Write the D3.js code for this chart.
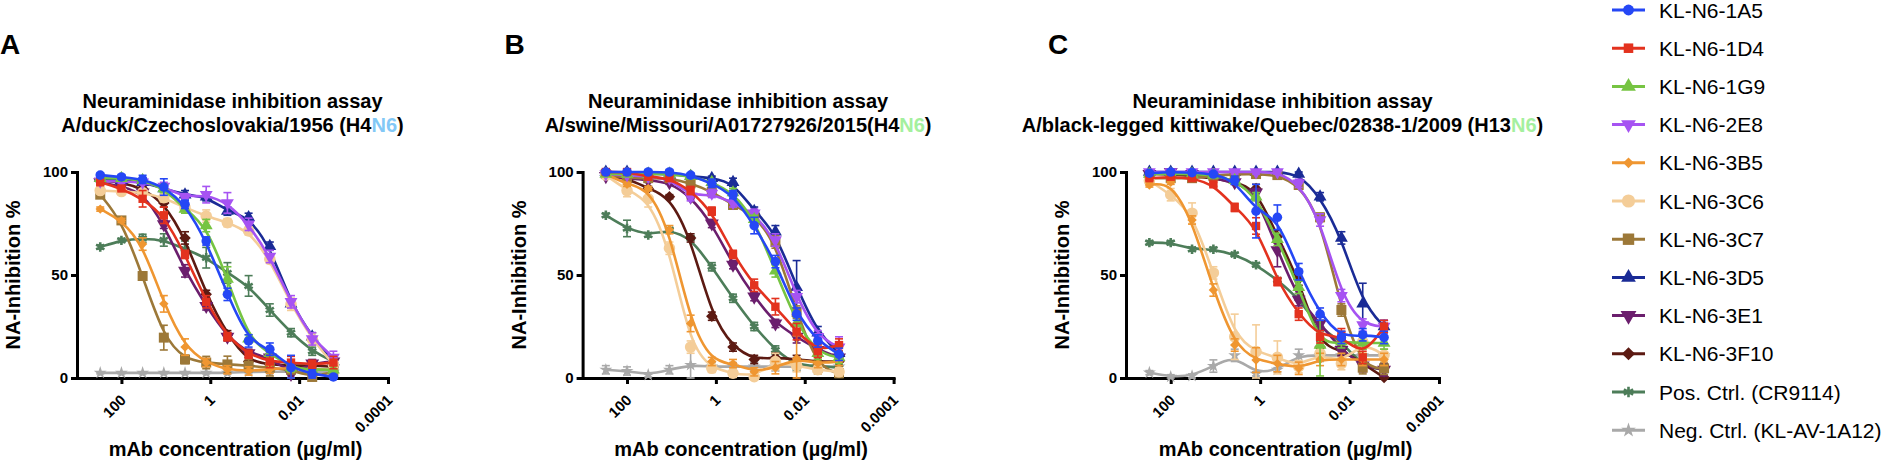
<!DOCTYPE html>
<html>
<head>
<meta charset="utf-8">
<script src="https://cdn.jsdelivr.net/npm/d3@7"></script>
<style>
  body { margin: 0; background: #fff; }
  svg { font-family: "Liberation Sans", Arial, Helvetica, sans-serif; }
</style>
</head>
<body>
<svg id="chart" width="1890" height="464"></svg>
<script>
// 3-fold serial dilution, µg/ml
const concentrations = [300, 100, 33.33, 11.11, 3.704, 1.235, 0.4115, 0.1372, 0.04572, 0.01524, 0.00508, 0.001694];

const seriesNames = ["KL-N6-1A5", "KL-N6-1D4", "KL-N6-1G9", "KL-N6-2E8", "KL-N6-3B5", "KL-N6-3C6",
  "KL-N6-3C7", "KL-N6-3D5", "KL-N6-3E1", "KL-N6-3F10", "Pos. Ctrl. (CR9114)", "Neg. Ctrl. (KL-AV-1A12)"];
const seriesColors = ["#2547f5", "#e3321e", "#76c442", "#a653f2", "#ef9631", "#f4cd98",
  "#9c7838", "#1a2b96", "#6b1e6d", "#5c1a12", "#4d7d59", "#a9a9a9"];
const seriesMarkers = ["circle", "square", "triangle", "triangleDown", "diamond", "circle",
  "square", "triangle", "triangleDown", "diamond", "asterisk", "star"];
const markerSizes = [72, 70, 72, 72, 44, 105, 100, 72, 84, 66, 62, 52];

const panelLabels = ["A", "B", "C"];
const titleLine1 = "Neuraminidase inhibition assay";
const titleStrains = ["A/duck/Czechoslovakia/1956 (H4", "A/swine/Missouri/A01727926/2015(H4", "A/black-legged kittiwake/Quebec/02838-1/2009 (H13"];
const titleNa = "N6";
const naColors = ["#82c8f6", "#a4f09e", "#a4f09e"];

const xTickValues = [100, 1, 0.01, 0.0001];
const xTickLabels = ["100", "1", "0.01", "0.0001"];
const yTickValues = [0, 50, 100];
const xLabel = "mAb concentration (µg/ml)";
const yLabel = "NA-Inhibition %";

// NA-inhibition %, one row per series (same order as seriesNames)
const valuesA = [
  [98.5, 97.6, 96.4, 92.7, 84.3, 66.5, 40.6, 18, 14, 5, 2, 0.5],
  [95, 92, 87, 79, 60, 37, 20, 11.5, 8, 7.5, 6.6, 7.5],
  [97, 97, 96, 92, 82, 74, 48, 19, 12, 5, 4, 4],
  [95.5, 95.5, 95, 93, 87.5, 89, 85, 74.6, 59, 37, 19, 10],
  [82, 76.5, 65, 36, 15, 7.5, 4, 3.4, 4.2, 5, 4, 4],
  [91, 90.5, 90, 87.5, 82.7, 78.6, 75.4, 71.4, 57.6, 35.8, 18.8, 6.6],
  [89, 76.5, 49.5, 19.6, 9, 7.5, 6.6, 6, 5, 4, 0.5, 3],
  [97, 96, 95, 92, 89, 88, 81, 78, 64, 36, 20, 8],
  [95, 93, 90, 74.6, 52, 35, 20, 12, 10, 2, 7, 8],
  [96, 95, 92, 85, 68, 40.6, 21, 8, 6.6, 6, 6, 5.5],
  [63.6, 66.8, 67.8, 67, 62.5, 58.4, 51, 44.7, 33, 22, 13, 8],
  [2.5, 2.5, 2.5, 2.5, 2.5, 2.5, 2.5, 3, 3, 3, 3, 3]
];
const errorsA = [
  [1, 1, 2, 4, 2, 2, 3, 3, 3, 6, 2, 1],
  [1, 1, 4, 4, 2, 3, 2, 2, 3, 3, 2, 3],
  [1, 1, 1, 2, 2, 3, 6, 2, 2, 2, 2, 2],
  [1, 1, 1, 2, 2, 4, 5, 3, 3, 3, 3, 3],
  [1, 1, 3, 4, 4, 2, 2, 2, 2, 2, 2, 2],
  [1, 1, 1, 2, 2, 3, 2, 2, 2, 3, 3, 3],
  [1, 1, 2, 6, 2, 3, 4, 3, 4, 4, 3, 3],
  [1, 1, 1, 2, 2, 2, 2, 2, 2, 2, 2, 2],
  [1, 1, 1, 2, 3, 2, 2, 2, 2, 4, 2, 2],
  [1, 1, 1, 2, 3, 2, 2, 2, 2, 2, 2, 2],
  [1, 1, 2, 3, 4, 5, 5, 5, 3, 2, 2, 2],
  [0.5, 0.5, 0.5, 0.5, 0.5, 0.5, 0.5, 0.5, 0.5, 0.5, 0.5, 0.5]
];

const valuesB = [
  [100, 100, 100, 100, 98.5, 94.5, 89, 74, 56.5, 31, 18, 11.5],
  [100, 100, 97.7, 97, 91, 81, 60, 45, 34.6, 22.5, 13, 16],
  [99, 99, 99, 99, 98, 95, 90, 77, 52, 26.5, 12, 10],
  [99, 98.5, 97.7, 97, 88, 89.6, 85, 80, 67, 39.5, 20, 15],
  [99, 94, 92, 72, 26.5, 8, 7, 3, 5, 9.5, 7, 8],
  [98.5, 91, 87, 63, 15, 4.7, 2.3, 0.6, 8, 6, 4, 3],
  [99, 97, 97, 97, 94.5, 90.5, 84, 79, 66, 32, 5, 2.3],
  [100, 100, 99, 99, 98, 97, 95, 81, 71, 44, 22, 12],
  [98, 97, 96, 95, 88, 75, 55, 39.5, 26.5, 20, 13.6, 10],
  [98, 97, 92, 88, 68, 30, 15, 9, 10, 9, 8, 8],
  [79, 72.6, 69.4, 72, 68, 54, 38.7, 25, 13.6, 6, 6, 5],
  [4, 3.4, 1.5, 4, 6.3, 5.5, 5.5, 5.5, 5.5, 5.5, 5.5, 5.5]
];
const errorsB = [
  [1, 1, 1, 1, 1, 2, 2, 4, 3, 3, 3, 3],
  [1, 1, 1, 1, 2, 2, 2, 3, 4, 4, 3, 3],
  [1, 1, 1, 1, 1, 1, 2, 2, 3, 3, 3, 3],
  [1, 1, 1, 1, 2, 2, 2, 2, 3, 3, 3, 5],
  [1, 1, 1, 2, 4, 2, 2, 2, 3, 11, 2, 2],
  [1, 3, 4, 3, 3, 2, 2, 2, 4, 3, 2, 2],
  [1, 1, 1, 1, 2, 2, 2, 2, 3, 3, 3, 2],
  [1, 1, 1, 1, 1, 1, 2, 2, 3, 13, 3, 3],
  [1, 1, 1, 1, 1, 2, 2, 2, 2, 3, 3, 3],
  [1, 1, 1, 1, 2, 2, 2, 2, 2, 2, 2, 2],
  [1, 4, 1, 1, 1, 2, 2, 2, 2, 2, 2, 2],
  [2, 2, 1, 2, 9, 2, 2, 2, 2, 2, 2, 2]
];

const valuesC = [
  [99.4, 100, 99.7, 99, 96, 81, 78, 51.6, 31, 19.7, 21, 19.7],
  [97, 97.7, 97, 94, 82.8, 73.8, 46.8, 31, 20, 21, 10, 25],
  [99, 99, 99, 98.5, 96, 88, 67.3, 44, 16, 17.6, 17, 17],
  [100, 100, 100, 100, 100, 100, 100, 94.5, 76.7, 40, 25.7, 25],
  [93.7, 95, 76.7, 42.7, 16, 8.7, 7, 4.7, 9, 9, 9, 9],
  [95.8, 89, 80, 51, 20, 12.8, 10, 5.5, 12, 7, 17.6, 11],
  [97, 97, 97, 98, 99, 99, 98.5, 93.7, 78, 33, 5, 4.7],
  [100, 100, 100, 100, 100, 100, 100, 99, 88, 68, 36, 25],
  [99, 100, 99, 97, 95, 90, 62, 38, 26.5, 13.6, 6, 4],
  [99, 99, 98, 97, 95, 92, 68.6, 48, 15, 14, 7, 0.3],
  [65.7, 65.7, 62.5, 62.5, 60, 55, 47.6, 38.7, 24, 18, 5.5, 4],
  [2.6, 0.6, 1, 5.8, 11, 2, 4, 11, 11, 11, 11, 11]
];
const errorsC = [
  [1, 1, 1, 1, 2, 13, 6, 4, 3, 3, 3, 3],
  [1, 1, 1, 1, 2, 4, 2, 3, 3, 3, 3, 3],
  [1, 1, 1, 1, 1, 2, 3, 3, 15, 3, 3, 3],
  [1, 1, 1, 1, 1, 1, 1, 2, 3, 3, 3, 3],
  [1, 1, 2, 3, 3, 6, 4, 3, 3, 3, 3, 3],
  [1, 3, 5, 3, 11, 13, 8, 3, 3, 3, 3, 3],
  [1, 1, 1, 1, 1, 1, 1, 2, 2, 3, 3, 3],
  [1, 1, 1, 1, 1, 1, 1, 1, 2, 3, 10, 3],
  [1, 1, 1, 1, 1, 2, 8, 3, 3, 3, 3, 3],
  [1, 1, 1, 1, 1, 2, 3, 3, 3, 3, 3, 3],
  [1, 1, 1, 1, 1, 1, 1, 1, 1, 1, 1, 1],
  [1, 1, 1, 3, 3, 1, 1, 3, 3, 3, 3, 3]
];

const panelValues = [valuesA, valuesB, valuesC];
const panelErrors = [errorsA, errorsB, errorsC];

// layout
const panels = [
  { x0: 77, x1: 388 },
  { x0: 582.6, x1: 893.6 },
  { x0: 1126, x1: 1439 }
];
const plotTop = 172, plotBottom = 378;

const svg = d3.select("#chart");

var y = d3.scaleLinear().domain([0, 100]).range([plotBottom, plotTop]);

function symbolPath(kind, size) {
  var type = d3.symbolCircle;
  if (kind === "square" || kind === "diamond") type = d3.symbolSquare;
  if (kind === "triangle" || kind === "triangleDown") type = d3.symbolTriangle;
  if (kind === "star") type = d3.symbolStar;
  if (kind === "asterisk") type = d3.symbolAsterisk;
  return d3.symbol().type(type).size(size)();
}

function symbolRotation(kind) {
  if (kind === "triangleDown") return 180;
  if (kind === "diamond") return 45;
  return 0;
}

function drawMarker(sel, k, cx, cy, scale) {
  var kind = seriesMarkers[k];
  var m = sel.append("path")
    .attr("d", symbolPath(kind, markerSizes[k] * scale))
    .attr("transform", "translate(" + cx + "," + cy + ") rotate(" + symbolRotation(kind) + ")");
  if (kind === "asterisk") {
    m.attr("fill", "none").attr("stroke", seriesColors[k]).attr("stroke-width", 2.6);
  } else {
    m.attr("fill", seriesColors[k]);
  }
}

panels.forEach(function (p, i) {
  var x = d3.scaleLog().domain([1000, 0.0001]).range([p.x0, p.x1]);
  var g = svg.append("g");
  var cx = (p.x0 + p.x1) / 2;

  // panel letter
  g.append("text")
    .attr("x", p.x0 - 77 + (i === 0 ? 0 : -1))
    .attr("y", 54)
    .attr("font-size", 28)
    .attr("font-weight", "bold")
    .text(panelLabels[i]);

  // title
  var title = g.append("text")
    .attr("text-anchor", "middle")
    .attr("font-size", 20)
    .attr("font-weight", "bold");
  title.append("tspan").attr("x", cx).attr("y", 108).text(titleLine1);
  var line2 = title.append("tspan").attr("x", cx).attr("y", 132);
  line2.append("tspan").text(titleStrains[i]);
  line2.append("tspan").attr("fill", naColors[i]).text(titleNa);
  line2.append("tspan").text(")");

  // axes
  var xAxis = d3.axisBottom(x)
    .tickValues(xTickValues)
    .tickFormat(function (d) { return xTickLabels[xTickValues.indexOf(d)]; })
    .tickSize(6)
    .tickSizeOuter(0);
  var gx = g.append("g")
    .attr("transform", "translate(0," + plotBottom + ")")
    .call(xAxis);
  gx.selectAll("text")
    .attr("x", 0).attr("y", 0).attr("dy", 0)
    .attr("text-anchor", "end")
    .attr("transform", "translate(5,23) rotate(-45)");

  var yAxis = d3.axisLeft(y)
    .tickValues(yTickValues)
    .tickSize(6)
    .tickPadding(3)
    .tickSizeOuter(0);
  var gy = g.append("g")
    .attr("transform", "translate(" + p.x0 + ",0)")
    .call(yAxis);

  [gx, gy].forEach(function (a) {
    a.select(".domain").attr("stroke-width", 3).attr("stroke-linecap", "square");
    a.selectAll(".tick line").attr("stroke-width", 3);
    a.selectAll(".tick text")
      .attr("font-size", 15)
      .attr("font-weight", "bold")
      .attr("font-family", "Liberation Sans, Arial, sans-serif")
      .attr("fill", "#000");
  });

  g.append("text")
    .attr("x", cx + 3)
    .attr("y", 456)
    .attr("text-anchor", "middle")
    .attr("font-size", 20)
    .attr("font-weight", "bold")
    .text(xLabel);

  g.append("text")
    .attr("transform", "translate(" + (p.x0 - 57) + "," + y(50) + ") rotate(-90)")
    .attr("text-anchor", "middle")
    .attr("font-size", 20)
    .attr("font-weight", "bold")
    .text(yLabel);

  // data, last series drawn first so KL-N6-1A5 ends on top
  var values = panelValues[i];
  var errors = panelErrors[i];
  var line = d3.line()
    .x(function (d, j) { return x(concentrations[j]); })
    .y(function (d) { return y(d); })
    .curve(d3.curveBasis);

  d3.range(seriesNames.length).reverse().forEach(function (k) {
    var s = g.append("g").attr("class", "series");
    var col = seriesColors[k];
    s.append("path")
      .datum(values[k])
      .attr("d", line)
      .attr("fill", "none")
      .attr("stroke", col)
      .attr("stroke-width", 2.6);

    values[k].forEach(function (v, j) {
      var px = x(concentrations[j]);
      var e = errors[k][j];
      var lo = y(Math.max(0, v - e)), hi = y(Math.min(104, v + e));
      s.append("line")
        .attr("x1", px).attr("x2", px)
        .attr("y1", lo).attr("y2", hi)
        .attr("stroke", col).attr("stroke-width", 1.6);
      [lo, hi].forEach(function (yy) {
        s.append("line")
          .attr("x1", px - 4).attr("x2", px + 4)
          .attr("y1", yy).attr("y2", yy)
          .attr("stroke", col).attr("stroke-width", 1.6);
      });
      drawMarker(s, k, px, y(v), 1);
    });
  });
});

// legend
var legend = svg.append("g");
seriesNames.forEach(function (name, k) {
  var ly = 10 + k * 38.2;
  legend.append("line")
    .attr("x1", 1612).attr("x2", 1645)
    .attr("y1", ly).attr("y2", ly)
    .attr("stroke", seriesColors[k])
    .attr("stroke-width", 3);
  drawMarker(legend, k, 1628.5, ly, 1.3);
  legend.append("text")
    .attr("x", 1659)
    .attr("y", ly + 7.5)
    .attr("font-size", 21)
    .text(name);
});
</script>
</body>
</html>
